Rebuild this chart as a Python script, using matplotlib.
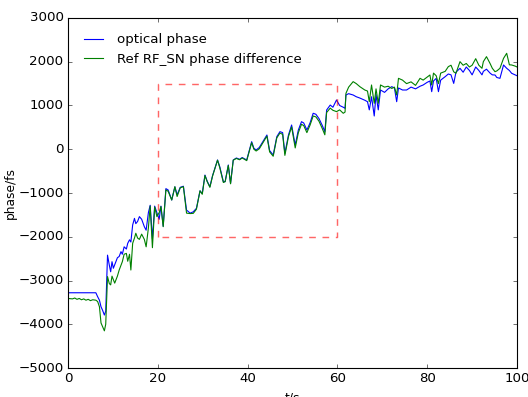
import matplotlib
matplotlib.use("Agg")
import matplotlib.pyplot as plt

# time (s), optical phase (fs), Ref RF_SN phase difference (fs)
t = [0, 1, 1.5, 2, 2.5, 3, 3.5, 4, 4.5, 5, 5.5, 6.2, 6.6, 7.0, 7.35, 7.7, 8.1, 8.4,
     8.8, 9.2, 9.5, 9.8, 10.1, 10.4, 11.0, 11.4, 11.8, 12.1, 12.5, 13.0, 13.3, 13.7,
     14.0, 14.4, 14.8, 15.1, 15.5, 15.9, 16.4, 17.0, 17.4, 17.9, 18.3, 18.8, 19.3,
     19.8, 20.3, 20.7, 21.2, 21.8, 22.3, 23.1, 23.8, 24.3, 25.0, 25.7, 26.4, 27.2,
     27.9, 28.6, 29.4, 29.9, 30.5, 31.0, 31.6, 32.2, 33.3, 33.8, 34.6, 35.0, 35.7,
     36.2, 36.8, 37.5, 38.2, 38.8, 39.8, 40.9, 41.4, 41.9, 42.6, 44.3, 44.9, 45.7,
     46.5, 47.2, 47.8, 48.3, 49.1, 49.8, 50.6, 51.3, 52.0, 52.5, 53.2, 53.9, 54.6,
     55.2, 55.9, 56.6, 57.2, 57.6, 58.4, 59.0, 59.8, 60.5, 61.3, 61.7, 61.9, 62.5,
     63.5, 64.2, 65.0, 66.1, 66.7, 67.1, 67.6, 68.2, 68.6, 69.1, 69.6, 70.5, 71.3,
     72.1, 72.7, 73.2, 73.6, 74.5, 75.4, 76.4, 77.4, 78.4, 79.1, 80.0, 80.6, 81.0,
     81.4, 82.0, 82.5, 83.0, 84.0, 84.7, 85.3, 85.9, 86.4, 87.3, 88.0, 88.7, 89.4,
     90.0, 90.8, 91.5, 92.2, 92.5, 93.2, 94.0, 94.5, 95.1, 95.5, 96.2, 97.0, 97.7,
     98.3, 98.8, 99.6, 100]

optical = [-3280, -3280, -3280, -3280, -3280, -3280, -3280, -3280, -3280, -3280,
           -3280, -3280, -3370, -3450, -3600, -3680, -3790, -3700,
           -2420, -2650, -2800, -2570, -2720, -2640, -2480, -2450, -2340, -2400,
           -2230, -2280, -2150, -2070, -2120, -1730, -1580, -1700, -1650, -1540,
           -1600, -1770, -1850, -1450, -1280, -2050, -1300, -1450, -1600, -1300,
           -1760, -900, -930, -1160, -860, -1040, -870, -845, -1390, -1460,
           -1430, -1350, -950, -1010, -590, -730, -856, -600, -246, -400, -740,
           -740, -360, -780, -246, -200, -230, -190, -246, 173, 22, -17, 40, 326,
           -30, -131, 287, 402, 380, -93, 326, 554, 97, 440, 630, 600, 440, 600,
           822, 800, 700, 550, 402, 897, 1010, 960, 1126, 1000, 960, 936, 1240,
           1270, 1240, 1200, 1170, 1120, 1087, 900, 1200, 760, 1250, 900, 1354,
           1300, 1380, 1430, 1400, 1087, 1400, 1354, 1354, 1420, 1380, 1440, 1469,
           1530, 1560, 1316, 1560, 1620, 1316, 1580, 1659, 1720, 1700, 1505, 1760,
           1850, 1760, 1880, 1800, 1700, 1880, 1800, 1700, 1780, 1830, 1740, 1700,
           1697, 1640, 1621, 1926, 1850, 1800, 1736, 1697, 1680]

ref_rf = [-3410, -3420, -3400, -3430, -3410, -3440, -3420, -3450, -3430, -3460,
          -3440, -3450, -3480, -3600, -3970, -4055, -4150, -4000,
          -2910, -3070, -3100, -2900, -2980, -3060, -2900, -2760, -2650, -2570,
          -2400, -2380, -2560, -2400, -2760, -2150, -2030, -1920, -2030, -2060,
          -1940, -2060, -2230, -1800, -1300, -2250, -1320, -1540, -1450, -1310,
          -1770, -930, -960, -1160, -856, -1080, -880, -856, -1460, -1470,
          -1465, -1370, -950, -1030, -600, -740, -870, -610, -250, -420, -760,
          -740, -370, -790, -250, -210, -240, -200, -260, 150, 0, -40, 10, 300,
          -60, -160, 260, 370, 340, -140, 290, 510, 30, 380, 570, 540, 380, 550,
          760, 740, 640, 480, 330, 840, 940, 890, 860, 900, 822, 850, 1278,
          1420, 1545, 1500, 1430, 1354, 1330, 1087, 1469, 1050, 1380, 1050, 1469,
          1420, 1440, 1390, 1420, 1240, 1621, 1580, 1500, 1540, 1460, 1621, 1580,
          1650, 1697, 1469, 1740, 1680, 1500, 1740, 1780, 1888, 1920, 1770, 1736,
          2002, 1920, 1960, 1880, 1920, 2070, 1920, 1850, 2002, 2116, 1960, 1850,
          1773, 1790, 1850, 2078, 2193, 1930, 1926, 1900, 1880]

# zoom window marked on the plot
box_t = [20, 60]
box_phase = [-2000, 1500]

plt.style.use('classic')
fig = plt.figure(figsize=(6.6, 4.9625), dpi=80, facecolor='white')
ax = fig.add_axes([0.1288, 0.073, 0.8504, 0.8817])
ax.set_facecolor('white')

ax.plot(t, optical, 'b', lw=1, label='optical phase')
ax.plot(t, ref_rf, 'g', lw=1, label='Ref RF_SN phase difference')
ax.plot([box_t[0], box_t[0], box_t[1], box_t[1], box_t[0]],
        [box_phase[0], box_phase[1], box_phase[1], box_phase[0], box_phase[0]],
        'r--', lw=1.3, alpha=0.6)

ax.set_xlim(0, 100)
ax.set_ylim(-5000, 3000)
ax.tick_params(labelsize=12)
ax.set_xlabel('t/s', fontsize=11)
ax.set_ylabel('phase/fs', fontsize=11, labelpad=1)
ax.legend(loc='upper left', frameon=False, fontsize=12,
          bbox_to_anchor=(0, 0.99))

plt.savefig('out.png', dpi=80, facecolor='white')
